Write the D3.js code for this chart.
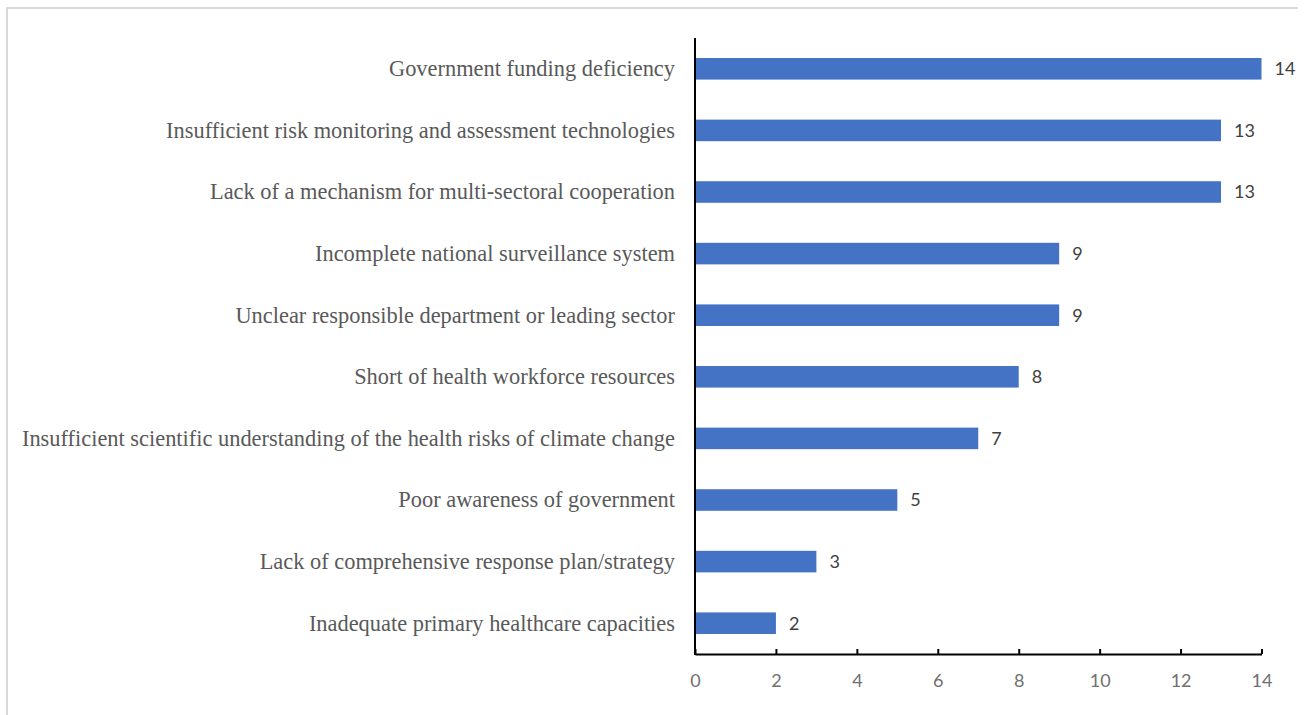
<!DOCTYPE html>
<html>
<head>
<meta charset="utf-8">
<script src="https://cdn.jsdelivr.net/npm/d3@7"></script>
<style>
  html, body { margin: 0; padding: 0; background: #fff; }
  svg { display: block; }
</style>
</head>
<body>
<svg id="chart" width="1307" height="715"></svg>
<script>
// Barriers reported, ordered top to bottom
const categories = [
  "Government funding deficiency",
  "Insufficient risk monitoring and assessment technologies",
  "Lack of a mechanism for multi-sectoral cooperation",
  "Incomplete national surveillance system",
  "Unclear responsible department or leading sector",
  "Short of health workforce resources",
  "Insufficient scientific understanding of the health risks of climate change",
  "Poor awareness of government",
  "Lack of comprehensive response plan/strategy",
  "Inadequate primary healthcare capacities"
];
const counts = [14, 13, 13, 9, 9, 8, 7, 5, 3, 2];
const xTicks = [0, 2, 4, 6, 8, 10, 12, 14];

const svg = d3.select("#chart");

// chart frame (top and left edges)
svg.append("path")
  .attr("d", "M7,715 L7,8 L1298,8")
  .attr("fill", "none")
  .attr("stroke", "#d9d9d9")
  .attr("stroke-width", 2);

const plotLeft = 695, plotRight = 1261.5, plotTop = 38, plotBottom = 654;

const x = d3.scaleLinear().domain([0, 14]).range([plotLeft, plotRight]);
const y = d3.scaleBand().domain(categories).range([plotTop, plotBottom]).paddingInner(0.65).paddingOuter(0.325);

// bars
svg.append("g").selectAll("rect")
  .data(categories)
  .join("rect")
  .attr("x", x(0))
  .attr("y", d => y(d))
  .attr("width", (d, i) => x(counts[i]) - x(0))
  .attr("height", y.bandwidth())
  .attr("fill", "#4472c4");

// value labels
svg.append("g").selectAll("text")
  .data(categories)
  .join("text")
  .attr("x", (d, i) => x(counts[i]) + 13)
  .attr("y", d => y(d) + y.bandwidth() / 2)
  .attr("dy", "0.36em")
  .attr("font-family", "Lato, 'Open Sans', sans-serif")
  .attr("font-size", 18)
  .attr("fill", "#404040")
  .text((d, i) => counts[i]);

// category labels
svg.append("g").selectAll("text")
  .data(categories)
  .join("text")
  .attr("x", plotLeft - 20)
  .attr("y", d => y(d) + y.bandwidth() / 2)
  .attr("dy", "0.33em")
  .attr("text-anchor", "end")
  .attr("font-family", "'Liberation Serif', 'Times New Roman', serif")
  .attr("font-size", 22.4)
  .attr("fill", "#595959")
  .text(d => d);

// x axis with inward ticks
const xAxis = svg.append("g")
  .attr("transform", `translate(0,${plotBottom})`)
  .call(d3.axisBottom(x).tickValues(xTicks).tickSizeInner(-5).tickSizeOuter(0).tickPadding(20));
xAxis.select(".domain").attr("stroke", "#000").attr("stroke-width", 2);
xAxis.selectAll(".tick line").attr("stroke", "#000").attr("stroke-width", 2);
xAxis.selectAll(".tick text")
  .attr("font-family", "Lato, 'Open Sans', sans-serif")
  .attr("font-size", 18)
  .attr("fill", "#707070");

// y axis line
svg.append("line")
  .attr("x1", plotLeft).attr("x2", plotLeft)
  .attr("y1", plotTop).attr("y2", plotBottom + 1)
  .attr("stroke", "#000")
  .attr("stroke-width", 2);
</script>
</body>
</html>
